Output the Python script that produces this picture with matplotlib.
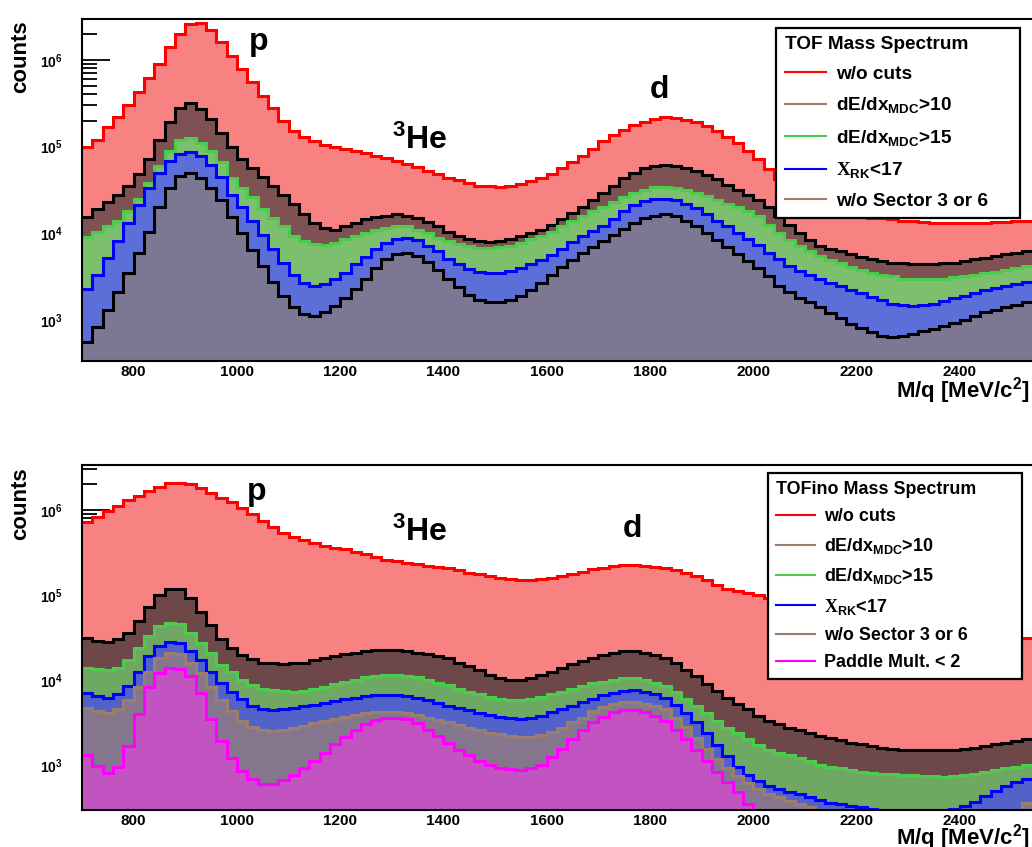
import numpy as np
import matplotlib.pyplot as plt
from matplotlib.lines import Line2D
from matplotlib.ticker import LogLocator, FuncFormatter, MultipleLocator, NullFormatter

plt.rcParams['font.family'] = 'Liberation Sans'
plt.rcParams['font.weight'] = 'bold'
plt.rcParams['mathtext.fontset'] = 'custom'
plt.rcParams['mathtext.rm'] = 'Liberation Serif'
plt.rcParams['mathtext.bf'] = 'Liberation Sans:bold'
plt.rcParams['mathtext.sf'] = 'Liberation Sans:bold'
plt.rcParams['mathtext.it'] = 'Liberation Sans:bold:italic'
plt.rcParams['mathtext.default'] = 'bf'

# M/q bins [MeV/c^2], 20 MeV wide
mass_edges = np.arange(700, 2541, 20)

######## TOF (upper panel) ########
tof_nocut = [
    1.0e5, 1.2e5, 1.7e5, 2.2e5, 3.0e5, 4.3e5, 6.2e5, 9.1e5, 1.4e6, 2.0e6,
    2.6e6, 2.7e6, 2.2e6, 1.6e6, 1.1e6, 7.9e5, 5.5e5, 3.8e5, 2.8e5, 2.0e5,
    1.5e5, 1.3e5, 1.15e5, 1.05e5, 9.8e4, 9.3e4, 8.9e4, 8.5e4, 7.9e4, 7.4e4,
    6.8e4, 6.3e4, 5.8e4, 5.2e4, 4.8e4, 4.4e4, 4.1e4, 3.8e4, 3.5e4, 3.5e4,
    3.4e4, 3.5e4, 3.7e4, 4.0e4, 4.4e4, 4.9e4, 5.6e4, 6.6e4, 7.9e4, 9.5e4,
    1.15e5, 1.35e5, 1.55e5, 1.8e5, 1.95e5, 2.1e5, 2.2e5, 2.15e5, 2.05e5, 1.9e5,
    1.75e5, 1.5e5, 1.3e5, 1.1e5, 8.9e4, 7.2e4, 5.5e4, 4.2e4, 3.3e4, 2.75e4,
    2.35e4, 2.1e4, 1.9e4, 1.8e4, 1.65e4, 1.6e4, 1.5e4, 1.5e4, 1.45e4, 1.4e4,
    1.4e4, 1.35e4, 1.3e4, 1.3e4, 1.3e4, 1.3e4, 1.3e4, 1.3e4, 1.35e4, 1.35e4,
    1.4e4, 1.4e4]
tof_dedx10 = [
    1.55e4, 1.9e4, 2.3e4, 2.8e4, 3.5e4, 4.8e4, 7.2e4, 1.2e5, 1.95e5, 2.8e5,
    3.2e5, 2.75e5, 2.1e5, 1.45e5, 9.8e4, 7.2e4, 5.6e4, 4.5e4, 3.5e4, 2.75e4,
    2.2e4, 1.65e4, 1.3e4, 1.15e4, 1.1e4, 1.2e4, 1.3e4, 1.45e4, 1.55e4, 1.6e4,
    1.65e4, 1.6e4, 1.5e4, 1.35e4, 1.2e4, 1.05e4, 9.3e3, 8.5e3, 8.1e3, 7.9e3,
    8.1e3, 8.7e3, 9.3e3, 1.0e4, 1.1e4, 1.25e4, 1.45e4, 1.7e4, 2.0e4, 2.45e4,
    2.95e4, 3.5e4, 4.3e4, 5.0e4, 5.6e4, 6.0e4, 6.2e4, 6.0e4, 5.6e4, 5.2e4,
    4.7e4, 4.2e4, 3.6e4, 3.2e4, 2.75e4, 2.4e4, 2.0e4, 1.6e4, 1.25e4, 1.0e4,
    8.3e3, 7.2e3, 6.6e3, 6.2e3, 5.8e3, 5.4e3, 5.1e3, 4.8e3, 4.6e3, 4.5e3,
    4.4e3, 4.4e3, 4.4e3, 4.5e3, 4.6e3, 4.8e3, 5.0e3, 5.2e3, 5.5e3, 5.8e3,
    5.9e3, 6.2e3]
tof_dedx15 = [
    9.1e3, 1.05e4, 1.2e4, 1.4e4, 1.8e4, 2.5e4, 3.8e4, 6.0e4, 8.9e4, 1.2e5,
    1.25e5, 1.1e5, 8.9e4, 6.6e4, 4.4e4, 3.3e4, 2.6e4, 1.9e4, 1.5e4, 1.2e4,
    9.3e3, 8.1e3, 7.6e3, 7.4e3, 7.8e3, 8.5e3, 9.3e3, 1.0e4, 1.1e4, 1.15e4,
    1.2e4, 1.2e4, 1.1e4, 1.0e4, 8.9e3, 8.1e3, 7.6e3, 7.1e3, 6.8e3, 6.8e3,
    6.9e3, 7.2e3, 7.8e3, 8.5e3, 9.3e3, 1.05e4, 1.2e4, 1.4e4, 1.6e4, 1.8e4,
    2.0e4, 2.3e4, 2.6e4, 2.95e4, 3.2e4, 3.4e4, 3.4e4, 3.3e4, 3.2e4, 2.95e4,
    2.7e4, 2.45e4, 2.2e4, 2.0e4, 1.8e4, 1.6e4, 1.25e4, 1.0e4, 8.3e3, 7.2e3,
    6.3e3, 5.5e3, 4.9e3, 4.5e3, 4.1e3, 3.8e3, 3.5e3, 3.3e3, 3.2e3, 3.0e3,
    2.95e3, 2.95e3, 2.95e3, 3.0e3, 3.1e3, 3.2e3, 3.3e3, 3.5e3, 3.6e3, 3.8e3,
    4.0e3, 4.2e3]
tof_xrk17 = [
    2.3e3, 3.3e3, 5.2e3, 8.1e3, 1.3e4, 2.1e4, 3.3e4, 5.0e4, 6.9e4, 8.3e4,
    8.7e4, 7.8e4, 6.2e4, 4.5e4, 2.8e4, 2.0e4, 1.4e4, 9.5e3, 6.6e3, 4.6e3,
    3.3e3, 2.7e3, 2.5e3, 2.6e3, 2.95e3, 3.5e3, 4.4e3, 5.4e3, 6.6e3, 7.8e3,
    8.7e3, 8.9e3, 8.3e3, 7.2e3, 6.2e3, 5.1e3, 4.4e3, 3.9e3, 3.6e3, 3.5e3,
    3.5e3, 3.7e3, 4.0e3, 4.4e3, 4.9e3, 5.6e3, 6.6e3, 7.9e3, 9.3e3, 1.07e4,
    1.23e4, 1.48e4, 1.8e4, 2.1e4, 2.35e4, 2.5e4, 2.5e4, 2.4e4, 2.2e4, 1.95e4,
    1.66e4, 1.4e4, 1.2e4, 1.0e4, 8.5e3, 7.4e3, 6.0e3, 5.0e3, 4.2e3, 3.7e3,
    3.3e3, 2.95e3, 2.7e3, 2.45e3, 2.2e3, 2.05e3, 1.86e3, 1.7e3, 1.55e3, 1.5e3,
    1.45e3, 1.5e3, 1.55e3, 1.66e3, 1.8e3, 1.9e3, 2.05e3, 2.2e3, 2.35e3, 2.5e3,
    2.6e3, 2.75e3]
tof_nosec36 = [
    560, 830, 1.3e3, 2.1e3, 3.5e3, 6.0e3, 1.05e4, 2.0e4, 3.3e4, 4.6e4,
    5.0e4, 4.3e4, 3.3e4, 2.4e4, 1.55e4, 1.0e4, 6.5e3, 4.2e3, 2.75e3, 1.9e3,
    1.4e3, 1.17e3, 1.12e3, 1.23e3, 1.45e3, 1.8e3, 2.3e3, 3.0e3, 4.0e3, 5.0e3,
    5.8e3, 5.9e3, 5.5e3, 4.7e3, 3.8e3, 3.0e3, 2.4e3, 1.95e3, 1.7e3, 1.6e3,
    1.6e3, 1.7e3, 1.9e3, 2.2e3, 2.7e3, 3.3e3, 4.1e3, 4.9e3, 5.9e3, 6.9e3,
    8.1e3, 9.5e3, 1.12e4, 1.3e4, 1.5e4, 1.6e4, 1.65e4, 1.6e4, 1.4e4, 1.2e4,
    1.0e4, 8.3e3, 6.9e3, 5.8e3, 4.8e3, 4.0e3, 3.2e3, 2.5e3, 2.1e3, 1.8e3,
    1.6e3, 1.4e3, 1.2e3, 1.05e3, 910, 810, 720, 660, 630, 650,
    690, 740, 790, 850, 930, 1.0e3, 1.12e3, 1.23e3, 1.3e3, 1.4e3,
    1.5e3, 1.6e3]

######## TOFino (lower panel) ########
tofino_nocut = [
    7.2e5, 8.3e5, 9.8e5, 1.12e6, 1.3e6, 1.45e6, 1.66e6, 1.86e6, 2.05e6, 2.1e6,
    2.0e6, 1.8e6, 1.6e6, 1.4e6, 1.23e6, 1.05e6, 8.9e5, 7.4e5, 6.3e5, 5.4e5,
    4.8e5, 4.4e5, 4.1e5, 3.8e5, 3.6e5, 3.5e5, 3.2e5, 3.0e5, 2.8e5, 2.6e5,
    2.5e5, 2.4e5, 2.3e5, 2.2e5, 2.15e5, 2.05e5, 1.95e5, 1.8e5, 1.75e5, 1.66e5,
    1.6e5, 1.55e5, 1.5e5, 1.5e5, 1.55e5, 1.6e5, 1.66e5, 1.75e5, 1.86e5, 2.0e5,
    2.1e5, 2.2e5, 2.25e5, 2.25e5, 2.2e5, 2.15e5, 2.05e5, 1.95e5, 1.8e5, 1.66e5,
    1.5e5, 1.3e5, 1.17e5, 1.1e5, 1.05e5, 1.0e5, 9.3e4, 8.7e4, 8.1e4, 7.6e4,
    7.1e4, 6.6e4, 6.2e4, 5.8e4, 5.5e4, 5.2e4, 5.0e4, 4.8e4, 4.6e4, 4.4e4,
    4.2e4, 4.0e4, 3.9e4, 3.7e4, 3.6e4, 3.5e4, 3.4e4, 3.3e4, 3.2e4, 3.2e4,
    3.1e4, 3.1e4]
tofino_dedx10 = [
    3.1e4, 2.9e4, 2.8e4, 3.0e4, 3.6e4, 5.0e4, 7.2e4, 1.0e5, 1.17e5, 1.17e5,
    9.3e4, 6.3e4, 4.4e4, 3.0e4, 2.35e4, 1.95e4, 1.75e4, 1.6e4, 1.6e4, 1.55e4,
    1.6e4, 1.6e4, 1.7e4, 1.8e4, 1.9e4, 2.0e4, 2.1e4, 2.2e4, 2.25e4, 2.25e4,
    2.25e4, 2.2e4, 2.1e4, 2.0e4, 1.9e4, 1.8e4, 1.6e4, 1.45e4, 1.3e4, 1.15e4,
    1.05e4, 1.0e4, 1.0e4, 1.05e4, 1.15e4, 1.25e4, 1.4e4, 1.55e4, 1.65e4, 1.8e4,
    1.95e4, 2.1e4, 2.2e4, 2.2e4, 2.1e4, 1.95e4, 1.8e4, 1.6e4, 1.3e4, 1.1e4,
    8.9e3, 7.4e3, 6.2e3, 5.2e3, 4.5e3, 3.8e3, 3.3e3, 3.0e3, 2.75e3, 2.6e3,
    2.4e3, 2.2e3, 2.1e3, 1.95e3, 1.8e3, 1.75e3, 1.66e3, 1.6e3, 1.55e3, 1.5e3,
    1.5e3, 1.5e3, 1.5e3, 1.5e3, 1.5e3, 1.55e3, 1.6e3, 1.66e3, 1.75e3, 1.8e3,
    1.9e3, 2.0e3]
tofino_dedx15 = [
    1.4e4, 1.35e4, 1.3e4, 1.4e4, 1.7e4, 2.35e4, 3.3e4, 4.3e4, 4.7e4, 4.5e4,
    3.6e4, 2.75e4, 2.05e4, 1.5e4, 1.23e4, 1.0e4, 8.7e3, 7.9e3, 7.6e3, 7.4e3,
    7.2e3, 7.4e3, 7.8e3, 8.3e3, 8.9e3, 9.5e3, 1.0e4, 1.07e4, 1.12e4, 1.15e4,
    1.15e4, 1.12e4, 1.07e4, 1.0e4, 9.3e3, 8.7e3, 7.9e3, 7.2e3, 6.8e3, 6.3e3,
    6.0e3, 5.8e3, 5.8e3, 5.9e3, 6.3e3, 6.8e3, 7.2e3, 7.9e3, 8.5e3, 9.1e3,
    9.5e3, 1.0e4, 1.05e4, 1.05e4, 1.0e4, 9.3e3, 8.5e3, 7.2e3, 6.0e3, 5.0e3,
    4.1e3, 3.3e3, 2.75e3, 2.35e3, 2.0e3, 1.7e3, 1.5e3, 1.4e3, 1.3e3, 1.2e3,
    1.12e3, 1.0e3, 950, 910, 870, 830, 810, 790, 780, 760,
    760, 740, 740, 720, 740, 760, 790, 830, 870, 910,
    950, 1.0e3]
tofino_xrk17 = [
    7.1e3, 6.5e3, 6.2e3, 6.8e3, 8.5e3, 1.25e4, 1.9e4, 2.5e4, 2.8e4, 2.7e4,
    2.2e4, 1.7e4, 1.25e4, 9.1e3, 7.2e3, 5.9e3, 5.0e3, 4.6e3, 4.4e3, 4.5e3,
    4.7e3, 4.9e3, 5.1e3, 5.4e3, 5.6e3, 5.9e3, 6.2e3, 6.5e3, 6.6e3, 6.6e3,
    6.6e3, 6.5e3, 6.2e3, 5.8e3, 5.4e3, 5.0e3, 4.7e3, 4.4e3, 4.1e3, 3.9e3,
    3.7e3, 3.6e3, 3.5e3, 3.6e3, 3.8e3, 4.2e3, 4.6e3, 5.0e3, 5.5e3, 6.0e3,
    6.6e3, 7.1e3, 7.4e3, 7.6e3, 7.2e3, 6.8e3, 6.2e3, 5.1e3, 4.1e3, 3.2e3,
    2.35e3, 1.7e3, 1.26e3, 950, 760, 650, 560, 520, 480, 450,
    420, 390, 360, 350, 330, 320, 300, 280, 270, 260,
    260, 260, 270, 280, 300, 330, 370, 430, 490, 560,
    630, 690]
tofino_nosec36 = [
    4.7e3, 4.3e3, 4.1e3, 4.5e3, 5.8e3, 8.3e3, 1.25e4, 1.8e4, 2.1e4, 2.0e4,
    1.6e4, 1.2e4, 8.3e3, 5.8e3, 4.3e3, 3.3e3, 2.8e3, 2.6e3, 2.5e3, 2.6e3,
    2.75e3, 2.9e3, 3.1e3, 3.3e3, 3.5e3, 3.7e3, 3.9e3, 4.1e3, 4.2e3, 4.2e3,
    4.2e3, 4.1e3, 3.9e3, 3.6e3, 3.4e3, 3.2e3, 2.95e3, 2.75e3, 2.6e3, 2.4e3,
    2.3e3, 2.2e3, 2.15e3, 2.15e3, 2.25e3, 2.45e3, 2.75e3, 3.2e3, 3.6e3, 4.3e3,
    4.8e3, 5.2e3, 5.5e3, 5.5e3, 5.2e3, 4.9e3, 4.5e3, 3.6e3, 2.8e3, 2.1e3,
    1.55e3, 1.17e3, 910, 740, 620, 520, 460, 420, 380, 350,
    320, 295, 275, 260, 240, 230, 220, 210, 200, 195,
    190, 190, 190, 195, 200, 210, 220, 235, 250, 265,
    290, 360]
tofino_paddle = [
    1.3e3, 980, 810, 950, 1.66e3, 4.0e3, 8.3e3, 1.2e4, 1.4e4, 1.35e4,
    1.12e4, 7.1e3, 3.5e3, 1.9e3, 1.2e3, 850, 680, 600, 590, 660,
    760, 910, 1.12e3, 1.4e3, 1.75e3, 2.15e3, 2.6e3, 3.0e3, 3.4e3, 3.6e3,
    3.6e3, 3.5e3, 3.1e3, 2.6e3, 2.2e3, 1.8e3, 1.5e3, 1.3e3, 1.12e3, 1.0e3,
    930, 890, 870, 910, 1.0e3, 1.23e3, 1.55e3, 2.0e3, 2.6e3, 3.2e3,
    3.7e3, 4.2e3, 4.4e3, 4.4e3, 4.2e3, 3.8e3, 3.3e3, 2.6e3, 2.0e3, 1.5e3,
    1.1e3, 830, 630, 480, 350, 0, 0, 0, 0, 0,
    0, 0, 0, 0, 0, 0, 0, 0, 0, 0,
    0, 0, 0, 0, 0, 0, 0, 0, 0, 0,
    0, 0]

tof_labels = ['w/o cuts', r'dE/dx$_{MDC}$>10', r'dE/dx$_{MDC}$>15',
              r'$\mathrm{X}_{RK}$<17', 'w/o Sector 3 or 6']
tofino_labels = tof_labels + ['Paddle Mult. < 2']

RED, BLACK, GREEN, BLUE, BROWN, MAG = '#ff0000', '#000000', '#4ccc4c', '#0000ff', '#9a7e6e', '#ff00ff'
leg_colors = [RED, BROWN, GREEN, BLUE, BROWN, MAG]

# (values, outline colour, fill colour) in drawing order
tof_series = [
    (tof_nocut, RED, '#f88282'),
    (tof_dedx10, BLACK, '#7e5252'),
    (tof_dedx15, GREEN, '#7cc06e'),
    (tof_xrk17, BLUE, '#5c6ed8'),
    (tof_nosec36, BLACK, '#7c7894'),
]
tofino_series = [
    (tofino_nocut, RED, '#f88282'),
    (tofino_dedx10, BLACK, '#6e4848'),
    (tofino_dedx15, GREEN, '#6fa862'),
    (tofino_xrk17, BLUE, '#5262c8'),
    (tofino_nosec36, BROWN, '#85768e'),
    (tofino_paddle, MAG, '#c254c2'),
]


def decade_label(v, pos):
    return r'$10^{%d}$' % round(np.log10(v))


def draw_panel(ax, series, ylim, title, labels, legend_box, leg_fs, leg_space, peaks):
    ymin = ylim[0]
    for vals, lc, fc in series:
        v = np.clip(np.asarray(vals, dtype=float), ymin, None)
        ax.stairs(v, mass_edges, baseline=ymin, fill=True, color=fc, lw=0)
        ax.stairs(v, mass_edges, baseline=None, color=lc, lw=2.2)
    ax.set_yscale('log')
    ax.set_xlim(mass_edges[0], mass_edges[-1])
    ax.set_ylim(*ylim)
    ax.set_axisbelow(True)

    ax.xaxis.set_major_locator(MultipleLocator(200))
    ax.xaxis.set_minor_locator(MultipleLocator(50))
    ax.yaxis.set_major_locator(LogLocator(base=10))
    ax.yaxis.set_minor_locator(LogLocator(base=10, subs=np.arange(2, 10)))
    ax.yaxis.set_major_formatter(FuncFormatter(decade_label))
    ax.yaxis.set_minor_formatter(NullFormatter())
    ax.tick_params(axis='y', which='major', direction='in', length=20, width=1.3, pad=14, labelsize=10)
    ax.tick_params(axis='y', which='minor', direction='in', length=11, width=1.3)
    ax.tick_params(axis='x', which='major', direction='in', length=12, width=1.3, pad=3, labelsize=11)
    ax.tick_params(axis='x', which='minor', direction='in', length=6, width=1.0)
    for lbl in ax.get_xticklabels() + ax.get_yticklabels():
        lbl.set_fontweight('bold')
    for s in ['left', 'top', 'bottom']:
        ax.spines[s].set_linewidth(1.5)
    ax.spines['right'].set_visible(False)

    handles = [Line2D([], [], color=c, lw=1.5) for c in leg_colors[:len(labels)]]
    leg = ax.legend(handles, labels, title=title, loc='upper right',
                    bbox_to_anchor=legend_box, mode='expand', borderaxespad=0,
                    fancybox=False, framealpha=1, edgecolor='black',
                    fontsize=leg_fs, title_fontsize=leg_fs,
                    handlelength=2.2, handletextpad=0.5, labelspacing=leg_space,
                    borderpad=0.45, alignment='left')
    leg.get_frame().set_linewidth(1.6)
    leg.get_title().set_fontweight('bold')

    for txt, xf, yf in peaks:
        ax.text(xf, yf, txt, transform=ax.transAxes, fontsize=23,
                fontweight='bold', ha='center', va='baseline')


fig = plt.figure(figsize=(10.32, 8.47), dpi=100)
ax1 = fig.add_axes([0.0795, 0.5738, 0.9205, 0.4038])
ax2 = fig.add_axes([0.0795, 0.0437, 0.9205, 0.4073])

draw_panel(ax1, tof_series, (3.37e2, 2.97e6), 'TOF Mass Spectrum', tof_labels,
           (0.7305, 0.0, 0.2568, 0.974), 13.7, 0.65,
           [('p', 0.186, 0.91), (r'$^{3}$He', 0.356, 0.62), ('d', 0.608, 0.77)])
draw_panel(ax2, tofino_series, (2.95e2, 3.38e6), 'TOFino Mass Spectrum', tofino_labels,
           (0.7221, 0.0, 0.2674, 0.977), 12.9, 0.58,
           [('p', 0.184, 0.90), (r'$^{3}$He', 0.356, 0.78), ('d', 0.579, 0.79)])

for yc in [1 - 57 / 847, 1 - 504 / 847]:
    fig.text(21 / 1032, yc, 'counts', rotation=90, ha='center', va='center',
             fontsize=16, fontweight='bold')
for yb in [1 - 397 / 847, 1 - 844 / 847]:
    fig.text(1030 / 1032, yb, r'M/q [MeV/c$^{2}$]', ha='right', va='baseline',
             fontsize=16, fontweight='bold')

fig.savefig('out.png', dpi=100)
